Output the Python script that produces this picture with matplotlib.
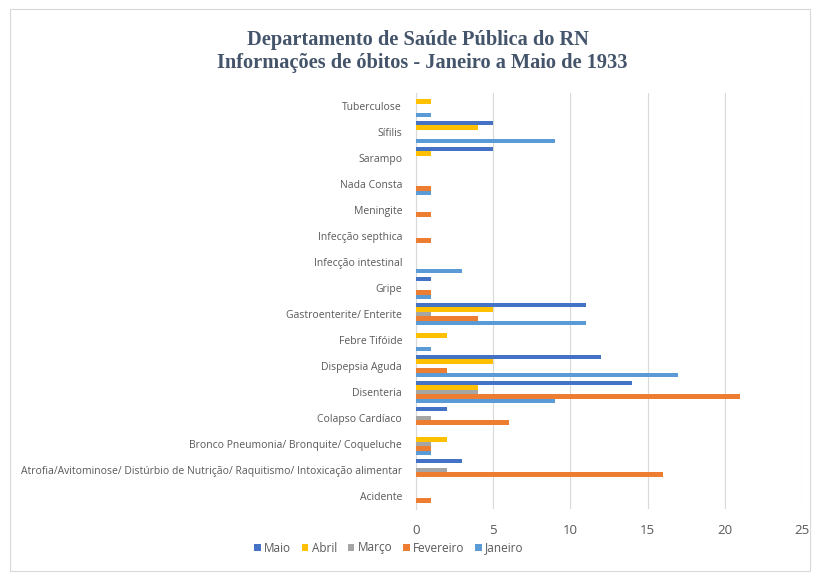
import matplotlib
matplotlib.use("Agg")
import matplotlib.pyplot as plt
import numpy as np
from matplotlib.patches import Rectangle

categories = ["Acidente",
              "Atrofia/Avitominose/ Distúrbio de Nutrição/ Raquitismo/ Intoxicação alimentar",
              "Bronco Pneumonia/ Bronquite/ Coqueluche",
              "Colapso Cardíaco",
              "Disenteria",
              "Dispepsia Aguda",
              "Febre Tifóide",
              "Gastroenterite/ Enterite",
              "Gripe",
              "Infecção intestinal",
              "Infecção septhica",
              "Meningite",
              "Nada Consta",
              "Sarampo",
              "Sífilis",
              "Tuberculose"]

janeiro   = [0, 0, 1, 0, 9, 17, 1, 11, 1, 3, 0, 0, 1, 0, 9, 1]
fevereiro = [1, 16, 1, 6, 21, 2, 0, 4, 1, 0, 1, 1, 1, 0, 0, 0]
marco     = [0, 2, 1, 1, 4, 0, 0, 1, 0, 0, 0, 0, 0, 0, 0, 0]
abril     = [0, 0, 2, 0, 4, 5, 2, 5, 0, 0, 0, 0, 0, 1, 4, 1]
maio      = [0, 3, 0, 2, 14, 12, 0, 11, 1, 0, 0, 0, 0, 5, 5, 0]

series_names = ["Janeiro", "Fevereiro", "Março", "Abril", "Maio"]
series_vals = [janeiro, fevereiro, marco, abril, maio]
colors = ["#5B9BD5", "#ED7D31", "#A5A5A5", "#FFC000", "#4472C4"]
xticks = [0, 5, 10, 15, 20, 25]

W, H = 817, 579
fig = plt.figure(figsize=(W / 100, H / 100), dpi=100)
fig.patch.set_facecolor("white")

left = 416 / W
right = 802 / W
top = 1 - 93 / H
bottom = 1 - 509 / H
ax = fig.add_axes([left, bottom, right - left, top - bottom])

y = np.arange(len(categories))
h = 0.172
handles = {}
for k, (name, vals, col) in enumerate(zip(series_names, series_vals, colors)):
    b = ax.barh(y + (k - 2) * h, vals, height=h, color=col, label=name, zorder=3)
    handles[name] = b

ax.set_xlim(0, 25)
ax.set_ylim(-0.5, len(categories) - 0.5)
ax.set_xticks(xticks)
ax.set_xticklabels([str(t) for t in xticks])
ax.set_yticks(y)
ax.set_yticklabels(categories)
ax.grid(axis="x", color="#D9D9D9", linewidth=0.8, zorder=0)
for s in ["top", "right", "bottom"]:
    ax.spines[s].set_visible(False)
ax.spines["left"].set_color("#D9D9D9")
ax.spines["left"].set_linewidth(0.8)
ax.tick_params(axis="both", length=0)
ax.tick_params(axis="x", pad=11, labelsize=9.5, labelcolor="#595959")
ax.tick_params(axis="y", pad=10, labelsize=7.5, labelcolor="#595959")
for lab in ax.get_yticklabels() + ax.get_xticklabels():
    lab.set_fontfamily("Open Sans")

fig.text(418 / W, 1 - 40 / H, "Departamento de Saúde Pública do RN",
         ha="center", va="center", fontsize=14.7, fontweight="bold",
         family="Liberation Serif", color="#44546A")
fig.text(422 / W, 1 - 63 / H, "Informações de óbitos - Janeiro a Maio de 1933",
         ha="center", va="center", fontsize=14.7, fontweight="bold",
         family="Liberation Serif", color="#44546A")

order = ["Maio", "Abril", "Março", "Fevereiro", "Janeiro"]
leg = fig.legend([handles[n] for n in order], order, loc="center",
                 bbox_to_anchor=(389 / W, 1 - 548 / H), ncol=5, frameon=False,
                 handlelength=0.55, handleheight=0.55, handletextpad=0.3,
                 columnspacing=0.9, prop={"family": "Open Sans", "size": 8.5})
for t in leg.get_texts():
    t.set_color("#595959")

fig.patches.append(Rectangle((10 / W, 8 / H), 800 / W, 562 / H,
                             transform=fig.transFigure, fill=False,
                             edgecolor="#D9D9D9", linewidth=0.8))

fig.savefig("out.png", dpi=100, facecolor="white")
